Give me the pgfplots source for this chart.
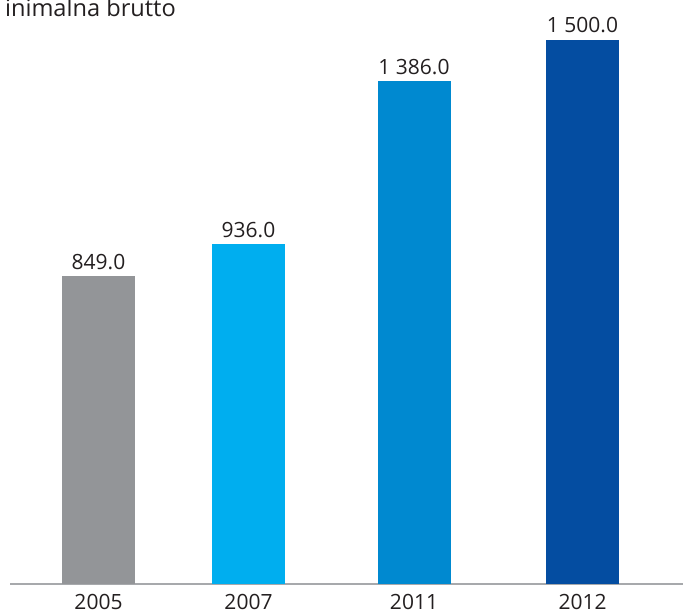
\documentclass[border=0pt]{standalone}
\usepackage{pgfplots}
\pgfplotsset{compat=1.18}
\usepackage{fontspec}
\setmainfont{Open Sans}
\definecolor{cgray}{HTML}{939598}
\definecolor{clight}{HTML}{00AEEF}
\definecolor{cmid}{HTML}{0089D0}
\definecolor{cdark}{HTML}{044DA1}
\definecolor{cline}{HTML}{A7A9AC}
\definecolor{ctext}{HTML}{231F20}
\newcommand{\lbl}{\fontsize{21bp}{25bp}\selectfont}
\newcommand{\ttl}{\fontsize{23.6bp}{27bp}\selectfont}
\begin{document}
\begin{tikzpicture}[x=1bp,y=1bp]
\useasboundingbox (0,0) rectangle (683,614);
\clip (0,0) rectangle (683,614);
\begin{axis}[
  at={(10bp,30bp)}, anchor=south west,
  scale only axis, width=673bp, height=584bp,
  xmin=10, xmax=683, ymin=0, ymax=1610,
  axis x line*=bottom, axis y line=none,
  x axis line style={color=cline, line width=2.5bp, -},
  xtick={98.5,248.5,414,582.5},
  xticklabels={2005,2007,2011,2012},
  major tick length=0pt,
  xticklabel style={font=\lbl, text=ctext, yshift=-7bp},
  clip=false,
  every axis plot/.append style={ybar, bar width=73bp, bar shift=0pt, draw=none},
  nodes near coords={\pgfmathprintnumber[fixed,fixed zerofill,precision=1,1000 sep={\ },assume math mode=true]{\pgfplotspointmeta}},
  nodes near coords style={font=\lbl, text=ctext, anchor=base, inner sep=0pt, yshift=7bp},
]
\addplot[fill=cgray] coordinates {(98.5,849)};
\addplot[fill=clight] coordinates {(248.5,936)};
\addplot[fill=cmid] coordinates {(414,1386)};
\addplot[fill=cdark] coordinates {(582.5,1500)};
\end{axis}
\node[anchor=base east, inner sep=0pt, font=\ttl, text=ctext] at (176,597) {inimalna brutto};
\end{tikzpicture}
\end{document}
